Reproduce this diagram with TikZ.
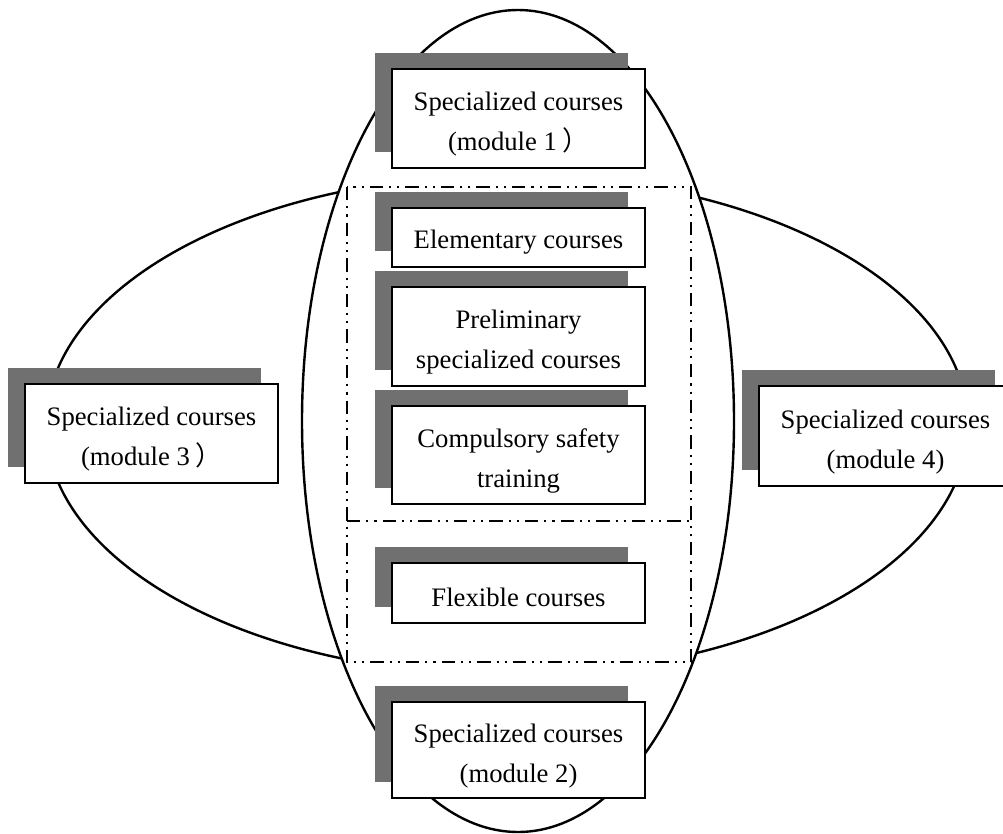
\documentclass[tikz,border=0pt]{standalone}
\usepackage{fontspec}
\setmainfont{Liberation Serif}
\newfontfamily\cjkfont{Noto Sans CJK SC}
\usetikzlibrary{shadows}
\begin{document}
\begin{tikzpicture}[x=0.75pt,y=-0.75pt,
  coursebox/.style={draw, line width=1.7pt, fill=white, minimum width=189.75pt, inner sep=0pt,
    general shadow={fill=black!56, draw=none, shadow xshift=-12.4pt, shadow yshift=12pt}},
  coursetext/.style={align=center, inner sep=0pt, font=\fontsize{20}{30}\selectfont},
  oval/.style={draw, line width=1.8pt, fill=white},
  frameline/.style={line width=1.5pt, dash pattern=on 10pt off 4.5pt on 1.6pt off 4.5pt on 1.6pt off 4.5pt}
]
\useasboundingbox (0,0) rectangle (1003,833);
\fill[white] (0,0) rectangle (1003,833);
% ellipses
\draw[oval] (507,425) ellipse [x radius=345.75pt, y radius=187.5pt];
\draw[oval] (518,421) ellipse [x radius=162pt, y radius=308.25pt];
% dash-dot frame
\coordinate (ftl) at (347,187);
\coordinate (fbr) at (691,662);
\draw[frameline] (ftl) rectangle (fbr);
\coordinate (dl) at (347,521);
\coordinate (dr) at (691,521);
\draw[frameline] (dl) -- (dr);
% boxes
\node[coursebox, minimum height=74.25pt] (m1) at (518.5,118.5) {};
\node[coursetext] (t1) at ([yshift=-4.5pt]m1.center) {Specialized courses\\(module 1\hspace{0.2em}{\cjkfont ）}};
\node[coursebox, minimum height=44.25pt] (el) at (518.5,237.5) {};
\node[coursetext] (tel) at ([yshift=-3.5pt]el.center) {Elementary courses};
\node[coursebox, minimum height=74.25pt] (pr) at (518.5,336.5) {};
\node[coursetext] (tpr) at ([yshift=-4.5pt]pr.center) {Preliminary\\specialized courses};
\node[coursebox, minimum height=73.5pt] (cs) at (518.5,455) {};
\node[coursetext] (tcs) at ([yshift=-4.5pt]cs.center) {Compulsory safety\\training};
\node[coursebox, minimum height=45pt] (fl) at (518.5,593) {};
\node[coursetext] (tfl) at ([yshift=-3.5pt]fl.center) {Flexible courses};
\node[coursebox, minimum height=72pt] (m2) at (518.5,750) {};
\node[coursetext] (t2) at ([yshift=-4.5pt]m2.center) {Specialized courses\\(module 2)};
\node[coursebox, minimum height=74.25pt] (m3) at (151.5,433.5) {};
\node[coursetext] (t3) at ([yshift=-4.5pt]m3.center) {Specialized courses\\(module 3\hspace{0.2em}{\cjkfont ）}};
\node[coursebox, minimum height=75pt] (m4) at (885.5,436) {};
\node[coursetext] (t4) at ([yshift=-4.5pt]m4.center) {Specialized courses\\(module 4)};
\end{tikzpicture}
\end{document}
